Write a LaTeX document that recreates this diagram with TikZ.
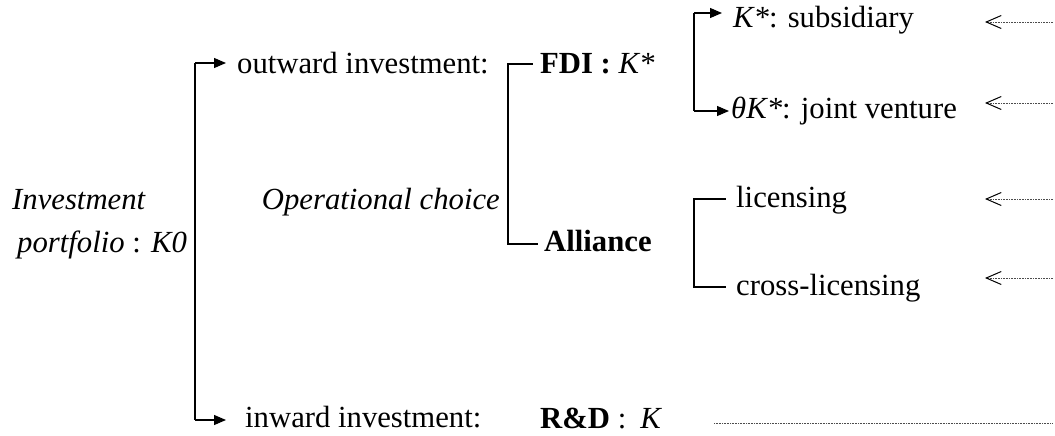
\documentclass[tikz,border=0pt]{standalone}
\usepackage{fontspec}
\setmainfont{Liberation Serif}
\usetikzlibrary{arrows.meta}
\begin{document}
\begin{tikzpicture}[x=1pt,y=-1pt,
  txt/.style={anchor=base west,inner sep=0pt,font=\fontsize{30.7}{36}\selectfont},
  bline/.style={line width=1.1pt,black},
  solidarr/.style={bline,-{Triangle[length=12pt,width=10pt]}},
  dotline/.style={line width=0.8pt,black!70,dash pattern=on 0.8pt off 0.8pt},
  dotarr/.style={dotline,-{Straight Barb[length=15pt,width=13pt,line width=1pt,black]}}]
\useasboundingbox (0,0) rectangle (1055,436);
% texts
\node[txt] (inv1) at (12,209) {\itshape Investment};
\node[txt] (inv2) at (17,252) {\textit{portfolio} : \textit{K0}};
\node[txt] (out) at (237,74) {outward investment:};
\node[txt] (in) at (245,427) {inward investment:};
\node[txt,anchor=base east] (op) at (500,209) {\itshape Operational choice};
\node[txt] (fdi) at (540,74) {\textbf{FDI :} \textit{K*}};
\node[txt] (all) at (544,251) {\bfseries Alliance};
\node[txt] (rd) at (540,428) {\textbf{R\&D} :\hspace{14pt}\textit{K}};
\node[txt] (sub) at (733,28) {\textit{K*}: subsidiary};
\node[txt] (jv) at (731,118) {\textit{θK*}: joint venture};
\node[txt] (lic) at (736,207) {licensing};
\node[txt] (cl) at (736,295) {cross-licensing};
% main bracket
\coordinate (mT) at (195,63);
\coordinate (mB) at (195,420);
\draw[bline] (mT) -- (mB);
\draw[solidarr,shorten >=11pt] (mT) -- (mT -| out.west);
\draw[solidarr,shorten >=19pt] (mB) -- (mB -| in.west);
% operational choice bracket
\coordinate (oT) at (508,64);
\coordinate (oB) at (508,244);
\draw[bline,shorten >=7pt] (oB) -- (oT) -- (oT -| fdi.west);
\draw[bline,shorten >=6pt] (oT) -- (oB) -- (oB -| all.west);
% FDI bracket
\coordinate (fT) at (694,13);
\coordinate (fB) at (694,111);
\draw[bline] (fT) -- (fB);
\draw[solidarr,shorten >=11pt] (fT) -- (fT -| sub.west);
\draw[solidarr,shorten >=2pt] (fB) -- (fB -| jv.west);
% Alliance bracket
\coordinate (aT) at (694,199);
\coordinate (aB) at (694,287);
\draw[bline,shorten >=10pt] (aB) -- (aT) -- (aT -| lic.west);
\draw[bline,shorten >=10pt] (aT) -- (aB) -- (aB -| cl.west);
% dotted arrows
\coordinate (d1) at (1053,22);  \coordinate (e1) at (985,22);
\coordinate (d2) at (1053,103); \coordinate (e2) at (985,103);
\coordinate (d3) at (1053,199); \coordinate (e3) at (985,199);
\coordinate (d4) at (1053,278); \coordinate (e4) at (985,278);
\draw[dotarr] (d1) -- (e1);
\draw[dotarr] (d2) -- (e2);
\draw[dotarr] (d3) -- (e3);
\draw[dotarr] (d4) -- (e4);
\coordinate (r1) at (714,423); \coordinate (r2) at (1053,423);
\draw[dotline] (r1) -- (r2);
\end{tikzpicture}
\end{document}
